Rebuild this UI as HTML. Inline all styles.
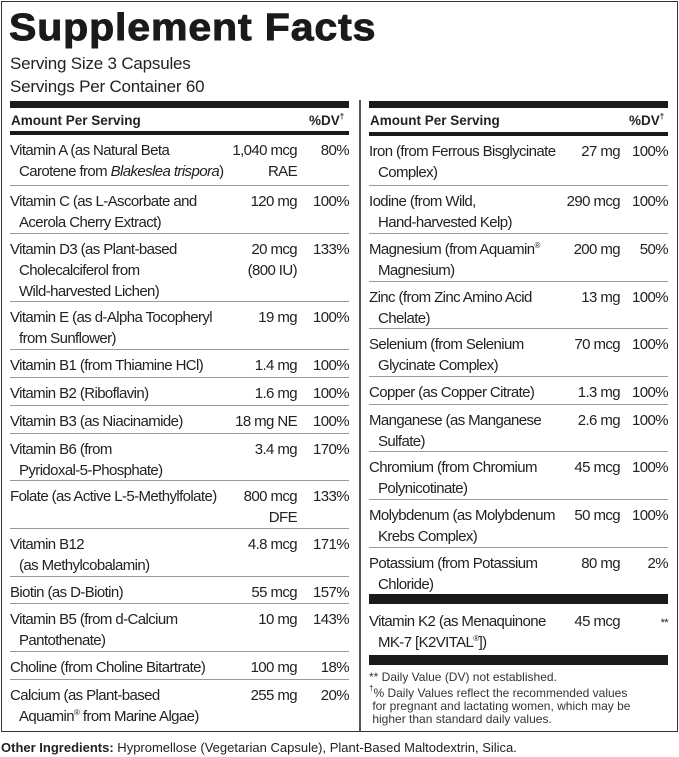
<!DOCTYPE html>
<html><head><meta charset="utf-8"><style>
*{margin:0;padding:0;box-sizing:border-box}
body{width:679px;height:757px;background:#fff;font-family:"Liberation Sans",Arial,sans-serif;color:#222;position:relative;overflow:hidden}
.box{position:absolute;left:1px;top:1px;width:677px;height:731px;border:1.5px solid #333}
.title{position:absolute;left:9px;top:7px;font-size:38px;font-weight:bold;color:#1a1a1a;letter-spacing:0.8px;transform:scaleX(1.08);transform-origin:left;-webkit-text-stroke:0.9px #1a1a1a}
.serv{position:absolute;left:10px;font-size:17px;letter-spacing:-0.2px;color:#222}
.bar{position:absolute;background:#1a1a1a}
.hdr{position:absolute;font-size:13.5px;font-weight:bold;color:#222}
.row{position:absolute;border-bottom:1px solid #999;font-size:15px;letter-spacing:-0.6px;line-height:21px}
.row.nl{border-bottom:none}
.n{position:absolute;left:0;top:5px}
.n span{display:block;padding-left:9px}
.n span:first-child{padding-left:0}
.a{position:absolute;top:5px;text-align:right}
.d{position:absolute;right:0;top:5px;text-align:right}
.vl{position:absolute;left:359px;top:100px;width:1.5px;height:632px;background:#555}
.fn{position:absolute;left:369px;font-size:12px;line-height:13px;color:#333}
sup{font-size:8px;vertical-align:6px;line-height:0}
</style></head><body>
<div class="box"></div>
<div class="title">Supplement Facts</div>
<div class="serv" style="top:54px">Serving Size 3 Capsules</div>
<div class="serv" style="top:77px">Servings Per Container 60</div>
<div class="vl"></div>

<div class="bar" style="left:10px;top:101px;width:339px;height:7px"></div>
<div class="hdr" style="left:11px;top:113px">Amount Per Serving</div>
<div class="hdr" style="left:309px;top:113px">%DV<sup>†</sup></div>
<div class="bar" style="left:10px;top:131px;width:339px;height:4px"></div>

<div class="bar" style="left:369px;top:101px;width:299px;height:7px"></div>
<div class="hdr" style="left:370px;top:113px">Amount Per Serving</div>
<div class="hdr" style="left:629px;top:113px">%DV<sup>†</sup></div>
<div class="bar" style="left:369px;top:132px;width:299px;height:4px"></div>

<div class="bar" style="left:369px;top:594px;width:299px;height:10px"></div>
<div class="bar" style="left:369px;top:655px;width:299px;height:10px"></div>
<div class="fn" style="top:671px">** Daily Value (DV) not established.</div>
<div class="fn" style="top:687px"><sup>†</sup>% Daily Values reflect the recommended values<br>&nbsp;for pregnant and lactating women, which may be<br>&nbsp;higher than standard daily values.</div>
<div style="position:absolute;left:1px;top:740px;font-size:13px;color:#222"><b>Other Ingredients:</b> Hypromellose (Vegetarian Capsule), Plant-Based Maltodextrin, Silica.</div>

<script>
function rows(x,w,amtR,data,last){
 let h='';
 data.forEach((r,i)=>{
  const nl=(i===data.length-1&&last)?' nl':'';
  h+=`<div class="row${nl}" style="left:${x}px;top:${r[0]}px;width:${w}px;height:${r[1]-r[0]}px">`+
  `<div class="n">${r[2].map(s=>'<span>'+s+'</span>').join('')}</div>`+
  `<div class="a" style="right:${amtR}px">${r[3]}</div><div class="d">${r[4]}</div></div>`;
 });
 document.write(h);
}
rows(10,339,52,[
[135,186,['Vitamin A (as Natural Beta','Carotene from <i>Blakeslea trispora</i>)'],'1,040 mcg<br>RAE','80%'],
[186,234,['Vitamin C (as L-Ascorbate and','Acerola Cherry Extract)'],'120 mg','100%'],
[234,302,['Vitamin D3 (as Plant-based','Cholecalciferol from','Wild-harvested Lichen)'],'20 mcg<br>(800 IU)','133%'],
[302,350,['Vitamin E (as d-Alpha Tocopheryl','from Sunflower)'],'19 mg','100%'],
[350,378,['Vitamin B1 (from Thiamine HCl)'],'1.4 mg','100%'],
[378,406,['Vitamin B2 (Riboflavin)'],'1.6 mg','100%'],
[406,434,['Vitamin B3 (as Niacinamide)'],'18 mg NE','100%'],
[434,481,['Vitamin B6 (from','Pyridoxal-5-Phosphate)'],'3.4 mg','170%'],
[481,529,['Folate (as Active L-5-Methylfolate)'],'800 mcg<br>DFE','133%'],
[529,577,['Vitamin B12','(as Methylcobalamin)'],'4.8 mcg','171%'],
[577,604,['Biotin (as D-Biotin)'],'55 mcg','157%'],
[604,652,['Vitamin B5 (from d-Calcium','Pantothenate)'],'10 mg','143%'],
[652,680,['Choline (from Choline Bitartrate)'],'100 mg','18%'],
[680,731,['Calcium (as Plant-based','Aquamin<sup>®</sup> from Marine Algae)'],'255 mg','20%']
],true);
rows(369,299,48,[
[136,186,['Iron (from Ferrous Bisglycinate','Complex)'],'27 mg','100%'],
[186,234,['Iodine (from Wild,','Hand-harvested Kelp)'],'290 mcg','100%'],
[234,282,['Magnesium (from Aquamin<sup>®</sup>','Magnesium)'],'200 mg','50%'],
[282,329,['Zinc (from Zinc Amino Acid','Chelate)'],'13 mg','100%'],
[329,377,['Selenium (from Selenium','Glycinate Complex)'],'70 mcg','100%'],
[377,405,['Copper (as Copper Citrate)'],'1.3 mg','100%'],
[405,452,['Manganese (as Manganese','Sulfate)'],'2.6 mg','100%'],
[452,500,['Chromium (from Chromium','Polynicotinate)'],'45 mcg','100%'],
[500,548,['Molybdenum (as Molybdenum','Krebs Complex)'],'50 mcg','100%'],
[548,594,['Potassium (from Potassium','Chloride)'],'80 mg','2%']
],true);
rows(369,299,48,[
[606,655,['Vitamin K2 (as Menaquinone','MK-7 [K2VITAL<sup>®</sup>])'],'45 mcg','<span style="font-size:11px">**</span>']
],true);
</script>
</body></html>
